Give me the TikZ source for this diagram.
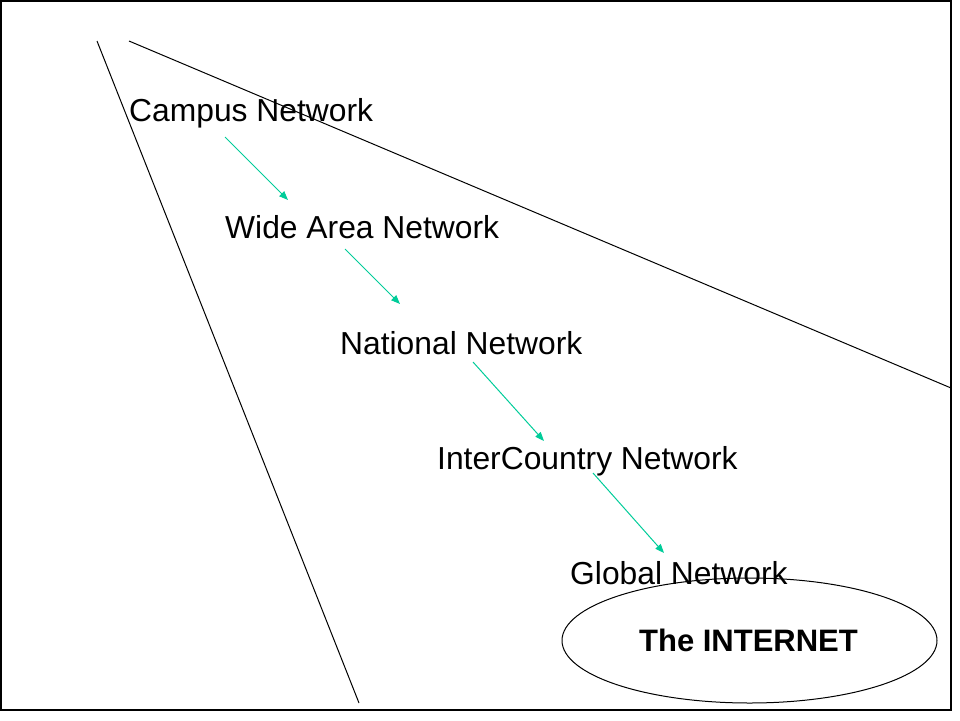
\documentclass[tikz,border=0pt]{standalone}
\usepackage{fontspec}
\setmainfont{Liberation Sans}
\usetikzlibrary{arrows.meta,shapes.geometric}
\definecolor{arrowgreen}{RGB}{0,204,153}
\tikzset{
  lbl/.style={anchor=base west, inner sep=0pt, font=\fontsize{31.8}{37}\selectfont},
  lblbold/.style={anchor=base, inner sep=0pt, font=\fontsize{31}{37}\selectfont\bfseries},
  flow/.style={draw=arrowgreen, line width=1pt, -{Triangle[length=9pt,width=7pt]}},
  thin/.style={draw=black, line width=1pt},
}
\begin{document}
\begin{tikzpicture}[x=1pt,y=-1pt]
\useasboundingbox (0,0) rectangle (960,720);
\draw[line width=1.5pt] (1,1) rectangle (951,710);
% funnel lines
\coordinate (l1a) at (97,41);
\coordinate (l1b) at (359,703);
\coordinate (l2a) at (129,41);
\coordinate (l2b) at (951,388);
\draw[thin] (l1a) -- (l1b);
\draw[thin] (l2a) -- (l2b);
% ellipse
\node[draw, ellipse, minimum width=375pt, minimum height=125pt, line width=1pt, inner sep=0pt] (inet) at (749.5,640.5) {};
\node[lblbold] (inettxt) at (748.5,651) {The INTERNET};
% labels
\node[lbl] (campus) at (129,121.5) {Campus Network};
\node[lbl] (wan) at (225,238) {Wide Area Network};
\node[lbl] (nat) at (340,354) {National Network};
\node[lbl] (inter) at (437,469) {InterCountry Network};
\node[lbl] (glob) at (570,584) {Global Network};
% arrows
\coordinate (a1s) at (225,137); \coordinate (a1e) at (288,200);
\coordinate (a2s) at (345,249); \coordinate (a2e) at (400,304);
\coordinate (a3s) at (473,362); \coordinate (a3e) at (544,441);
\coordinate (a4s) at (593,473); \coordinate (a4e) at (664,553);
\draw[flow] (a1s) -- (a1e);
\draw[flow] (a2s) -- (a2e);
\draw[flow] (a3s) -- (a3e);
\draw[flow] (a4s) -- (a4e);
\end{tikzpicture}
\end{document}
